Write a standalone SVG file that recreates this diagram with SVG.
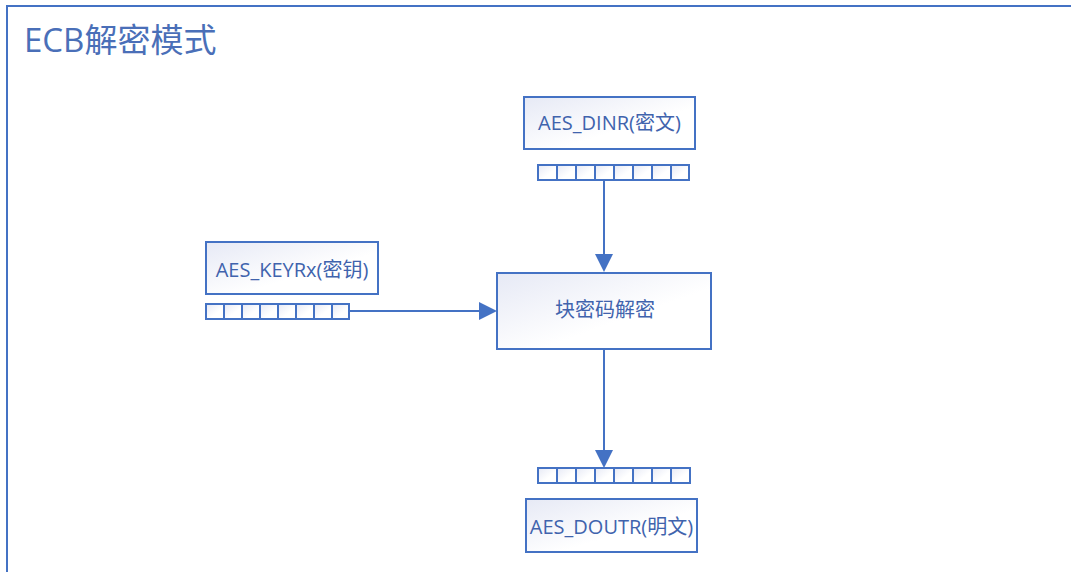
<svg xmlns="http://www.w3.org/2000/svg" width="1071" height="572" viewBox="0 0 1071 572">
<defs>
<linearGradient id="g" x1="0" y1="0" x2="1" y2="1">
<stop offset="0" stop-color="#e6e9f5"/>
<stop offset="0.6" stop-color="#ffffff"/>
</linearGradient>
<style>
.box{fill:url(#g);stroke:#4472c4;stroke-width:2}
.cell{fill:url(#g);stroke:#4472c4;stroke-width:2}
.t{font-family:"Open Sans","Noto Sans","Noto Sans CJK SC",sans-serif;fill:#4063ad;font-size:20px;text-anchor:middle}
.c{stroke:#4472c4;stroke-width:2;fill:none}
</style>
</defs>
<rect width="1071" height="572" fill="#ffffff"/>
<rect x="7" y="6" width="1080" height="580" fill="none" stroke="#4472c4" stroke-width="2"/>
<text x="24" y="52" font-family="'Open Sans','Noto Sans','Noto Sans CJK SC',sans-serif" font-size="33" fill="#4a6fb8">ECB解密模式</text>
<g id="dinr">
<rect class="box" x="524" y="97" width="171" height="52"/>
<text class="t" x="609.5" y="130">AES_DINR(密文)</text>
</g>
<g id="dinr-reg">
<rect class="cell" x="538" y="165" width="19" height="15"/>
<rect class="cell" x="557" y="165" width="19" height="15"/>
<rect class="cell" x="576" y="165" width="19" height="15"/>
<rect class="cell" x="595" y="165" width="19" height="15"/>
<rect class="cell" x="614" y="165" width="19" height="15"/>
<rect class="cell" x="633" y="165" width="19" height="15"/>
<rect class="cell" x="652" y="165" width="19" height="15"/>
<rect class="cell" x="671" y="165" width="18" height="15"/>
</g>
<g id="key">
<rect class="box" x="206" y="242" width="172" height="52"/>
<text class="t" x="292" y="277">AES_KEYRx(密钥)</text>
</g>
<g id="key-reg">
<rect class="cell" x="206" y="304" width="18" height="15"/>
<rect class="cell" x="224" y="304" width="18" height="15"/>
<rect class="cell" x="242" y="304" width="18" height="15"/>
<rect class="cell" x="260" y="304" width="18" height="15"/>
<rect class="cell" x="278" y="304" width="18" height="15"/>
<rect class="cell" x="296" y="304" width="18" height="15"/>
<rect class="cell" x="314" y="304" width="18" height="15"/>
<rect class="cell" x="332" y="304" width="17" height="15"/>
</g>
<g id="block">
<rect class="box" x="497" y="273" width="214" height="76"/>
<text class="t" x="605" y="317">块密码解密</text>
</g>
<g id="doutr-reg">
<rect class="cell" x="538" y="468" width="19" height="15"/>
<rect class="cell" x="557" y="468" width="19" height="15"/>
<rect class="cell" x="576" y="468" width="19" height="15"/>
<rect class="cell" x="595" y="468" width="19" height="15"/>
<rect class="cell" x="614" y="468" width="19" height="15"/>
<rect class="cell" x="633" y="468" width="19" height="15"/>
<rect class="cell" x="652" y="468" width="19" height="15"/>
<rect class="cell" x="671" y="468" width="19" height="15"/>
</g>
<g id="doutr">
<rect class="box" x="526" y="499" width="171" height="53"/>
<text class="t" x="611.5" y="534">AES_DOUTR(明文)</text>
</g>
<g id="connectors">
<line class="c" x1="604" y1="180" x2="604" y2="254"/>
<path d="M595,254 L613,254 L604,272 z" fill="#4472c4"/>
<line class="c" x1="349" y1="311" x2="479" y2="311"/>
<path d="M479,302 L479,320 L497,311 z" fill="#4472c4"/>
<line class="c" x1="604" y1="349" x2="604" y2="450"/>
<path d="M595,450 L613,450 L604,468 z" fill="#4472c4"/>
</g>
</svg>
